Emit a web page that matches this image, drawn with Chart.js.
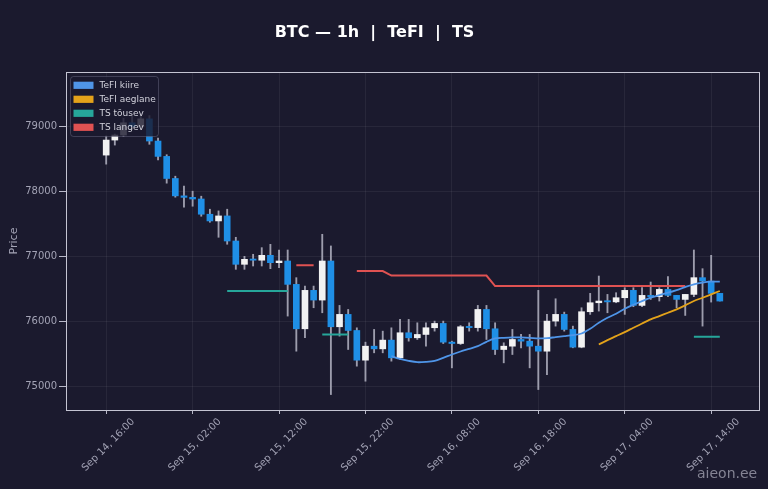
<!DOCTYPE html>
<html>
<head>
<meta charset="utf-8">
<script src="https://cdn.jsdelivr.net/npm/chart.js@4.4.1/dist/chart.umd.min.js"></script>
<style>
  html, body { margin: 0; padding: 0; background: #1b1a2e; }
  canvas { display: block; }
</style>
</head>
<body>
<canvas id="chart1" width="768" height="489"></canvas>
<script>
// hourly candles, index 0 = Sep 14 16:00
var opens  = [78554, 78785, 78862, 79050, 78990, 79110, 78770, 78534, 78195, 77928,
              77905, 77880, 77646, 77543, 77620, 77235, 76877, 76954, 76940, 77015,
              76902, 76928, 76569, 75887, 76477, 76328, 76928, 75918, 76108, 75861,
              75405, 75620, 75579, 75713, 75441, 75826, 75749, 75800, 75903, 75969,
              75682, 75661, 75918, 75905, 76184, 75887, 75569, 75620, 75723, 75697,
              75620, 75543, 76005, 76108, 75877, 75605, 76149, 76287, 76313, 76300,
              76364, 76477, 76246, 76400, 76380, 76492, 76400, 76338, 76415, 76672,
              76620, 76431];
var highs  = [78850, 78877, 79120, 79170, 79200, 79160, 78815, 78560, 78230, 78077,
              78000, 77923, 77723, 77697, 77723, 77292, 77000, 77031, 77133, 77184,
              77097, 77097, 76672, 76543, 76543, 77338, 77159, 76246, 76184, 75902,
              75682, 75877, 75851, 75902, 76031, 76031, 75979, 75979, 76005, 76005,
              75697, 75938, 75979, 76246, 76246, 75979, 75672, 75877, 75800, 75800,
              76477, 76108, 76348, 76143, 75928, 76210, 76431, 76697, 76415, 76441,
              76518, 76518, 76518, 76605, 76518, 76687, 76400, 76415, 77097, 76810,
              77015, 76431];
var lows   = [78415, 78708, 78840, 78950, 78960, 78720, 78480, 78123, 77908, 77754,
              77769, 77615, 77523, 77292, 77185, 76800, 76800, 76851, 76851, 76810,
              76825, 76082, 75543, 75749, 76210, 76133, 74877, 75774, 75569, 75313,
              75082, 75518, 75518, 75390, 75415, 75697, 75723, 75620, 75851, 75661,
              75287, 75646, 75851, 75851, 75723, 75492, 75364, 75492, 75595, 75287,
              74954, 75184, 75928, 75851, 75595, 75595, 76108, 76159, 76133, 76287,
              76108, 76226, 76226, 76338, 76313, 76380, 76210, 76092, 76380, 75928,
              76297, 76313];
var closes = [78785, 78862, 79050, 78990, 79110, 78770, 78534, 78195, 77928, 77905,
              77880, 77646, 77543, 77620, 77235, 76877, 76954, 76940, 77015, 76902,
              76928, 76569, 75887, 76477, 76328, 76928, 75918, 76108, 75861, 75405,
              75620, 75579, 75713, 75441, 75826, 75749, 75800, 75903, 75969, 75682,
              75661, 75918, 75905, 76184, 75887, 75569, 75620, 75723, 75697, 75620,
              75543, 76005, 76108, 75877, 75605, 76149, 76287, 76313, 76300, 76364,
              76477, 76246, 76400, 76380, 76492, 76400, 76338, 76415, 76672, 76620,
              76431, 76313];

var tefiKiire = [null, null, null, null, null, null, null, null, null, null,
                 null, null, null, null, null, null, null, null, null, null,
                 null, null, null, null, null, null, null, null, null, null,
                 null, null, null, 75467, 75425, 75395, 75374, 75379, 75395, 75441,
                 75492, 75538, 75579, 75620, 75687, 75738, 75748, 75754, 75754, 75749,
                 75740, 75743, 75759, 75774, 75790, 75815, 75887, 75979, 76056, 76118,
                 76195, 76256, 76313, 76364, 76405, 76441, 76482, 76528, 76569, 76595,
                 76610, 76610];
var tefiAeglane = [null, null, null, null, null, null, null, null, null, null,
                   null, null, null, null, null, null, null, null, null, null,
                   null, null, null, null, null, null, null, null, null, null,
                   null, null, null, null, null, null, null, null, null, null,
                   null, null, null, null, null, null, null, null, null, null,
                   null, null, null, null, null, null, null, 75646, 75713, 75774,
                   75836, 75903, 75969, 76031, 76082, 76133, 76185, 76246, 76313, 76364,
                   76415, 76467];
var tsTousev = [null, null, null, null, null, null, null, null, null, null,
                null, null, null, null, 76466, 76466, 76466, 76466, 76466, 76466,
                76466, 76466, null, null, null, 75800, 75800, 75800, 75800, null,
                null, null, null, null, null, null, null, null, null, null,
                null, null, null, null, null, null, null, null, null, null,
                null, null, null, null, null, null, null, null, null, null,
                null, null, null, null, null, null, null, null, 75764, 75764,
                75764, 75764];
var tsLangev = [null, null, null, null, null, null, null, null, null, null,
                null, null, null, null, null, null, null, null, null, null,
                null, null, 76861, 76861, 76861, null, null, null, null, 76774,
                76774, 76774, 76774, 76705, 76705, 76705, 76705, 76705, 76705, 76705,
                76705, 76705, 76705, 76705, 76705, 76543, 76543, 76543, 76543, 76543,
                76543, 76543, 76543, 76543, 76543, 76543, 76543, 76543, 76543, 76543,
                76543, 76543, 76543, 76543, 76543, 76543, 76543, 76543, null, null,
                null, null];

var tickHoras = [0, 10, 20, 30, 40, 50, 60, 70];
var tickTextos = ["Sep 14, 16:00", "Sep 15, 02:00", "Sep 15, 12:00", "Sep 15, 22:00",
                  "Sep 16, 08:00", "Sep 16, 18:00", "Sep 17, 04:00", "Sep 17, 14:00"];
var yTicks = [75000, 76000, 77000, 78000, 79000];

var fondo = "#1b1a2e";
var colorSube = "#f2f2f2";
var colorBaja = "#1f8fe6";
var colorMecha = "#9d9dad";
var colorTexto = "#a3a3b5";
var fuente = "'DejaVu Sans', sans-serif";

var leyenda = [
  { texto: "TeFI kiire",   color: "#4f95e8" },
  { texto: "TeFI aeglane", color: "#e3a21a" },
  { texto: "TS tõusev",    color: "#26a69a" },
  { texto: "TS langev",    color: "#e05252" }
];

var idx = opens.map(function (v, i) { return i; });

function serie(arr) {
  return arr.map(function (v, i) { return { x: i, y: v }; });
}

var decor = {
  id: "decor",
  beforeDraw: function (chart) {
    var ctx = chart.ctx;
    ctx.save();
    ctx.fillStyle = fondo;
    ctx.fillRect(0, 0, chart.width, chart.height);
    ctx.restore();
  },
  afterDraw: function (chart) {
    var ctx = chart.ctx;
    var a = chart.chartArea;
    ctx.save();

    // marco
    ctx.strokeStyle = "#c4c4d2";
    ctx.lineWidth = 1;
    ctx.strokeRect(Math.round(a.left) + 0.5, Math.round(a.top) + 0.5,
                   Math.round(a.right - a.left) - 1, Math.round(a.bottom - a.top));

    // leyenda
    var lx = a.left + 4.5, ly = a.top + 4.5;
    ctx.fillStyle = "rgba(27, 26, 46, 0.82)";
    ctx.strokeStyle = "rgba(110, 110, 135, 0.45)";
    ctx.beginPath();
    ctx.roundRect(lx, ly, 88, 60, 3);
    ctx.fill();
    ctx.stroke();
    ctx.font = "9px " + fuente;
    ctx.textBaseline = "middle";
    ctx.textAlign = "left";
    leyenda.forEach(function (item, k) {
      var cy = a.top + 13.3 + 14 * k;
      ctx.fillStyle = item.color;
      ctx.fillRect(a.left + 7.5, cy - 3.6, 20, 7.2);
      ctx.fillStyle = "#d2d2dc";
      ctx.fillText(item.texto, a.left + 33.5, cy);
    });

    // titulo
    ctx.fillStyle = "#ffffff";
    ctx.font = "bold 16px " + fuente;
    ctx.textAlign = "center";
    ctx.textBaseline = "middle";
    ctx.fillText("BTC \u2014 1h  |  TeFI  |  TS", 374.5, 33);

    // marca de agua
    ctx.fillStyle = "rgba(150, 150, 166, 0.85)";
    ctx.font = "14px " + fuente;
    ctx.textAlign = "left";
    ctx.textBaseline = "alphabetic";
    ctx.fillText("aieon.ee", 697, 478);
    ctx.restore();
  }
};

var grafico1 = new Chart(document.getElementById("chart1"), {
  type: "bar",
  data: {
    datasets: [
      {
        type: "line", label: "TeFI kiire", data: serie(tefiKiire),
        borderColor: "#4f95e8", borderWidth: 1.8, pointRadius: 0, tension: 0.3, order: 0
      },
      {
        type: "line", label: "TeFI aeglane", data: serie(tefiAeglane),
        borderColor: "#e3a21a", borderWidth: 1.8, pointRadius: 0, tension: 0.3, order: 0
      },
      {
        type: "line", label: "TS tõusev", data: serie(tsTousev),
        borderColor: "#26a69a", borderWidth: 2, pointRadius: 0, order: 0
      },
      {
        type: "line", label: "TS langev", data: serie(tsLangev),
        borderColor: "#e05252", borderWidth: 2, pointRadius: 0, order: 0
      },
      {
        label: "cuerpo",
        data: idx.map(function (i) { return { x: i, y: [opens[i], closes[i]] }; }),
        backgroundColor: idx.map(function (i) { return closes[i] >= opens[i] ? colorSube : colorBaja; }),
        barThickness: 6, minBarLength: 1.2, grouped: false, order: 1
      },
      {
        label: "mecha",
        data: idx.map(function (i) { return { x: i, y: [lows[i], highs[i]] }; }),
        backgroundColor: colorMecha,
        barThickness: 1.2, grouped: false, order: 2
      }
    ]
  },
  options: {
    responsive: false,
    animation: false,
    layout: { padding: { top: 72, right: 8, left: 0, bottom: 0 } },
    plugins: {
      legend: { display: false },
      tooltip: { enabled: false },
      title: { display: false }
    },
    scales: {
      x: {
        type: "linear",
        min: -4.65,
        max: 75.65,
        offset: false,
        grid: { color: "rgba(255,255,255,0.06)", offset: false, tickLength: 4, tickColor: "#b8b8c8" },
        border: { display: false },
        ticks: {
          color: colorTexto,
          font: { family: fuente, size: 10 },
          minRotation: 45, maxRotation: 45,
          autoSkip: false,
          labelOffset: 27,
          padding: 2,
          callback: function (v) {
            var k = tickHoras.indexOf(v);
            return k >= 0 ? tickTextos[k] : "";
          }
        },
        afterBuildTicks: function (s) {
          s.ticks = tickHoras.map(function (v) { return { value: v }; });
        },
        afterFit: function (s) { s.height = 79; }
      },
      y: {
        min: 74640,
        max: 79830,
        grid: { color: "rgba(255,255,255,0.06)", tickLength: 7, tickColor: "#b8b8c8" },
        border: { display: false },
        ticks: {
          color: colorTexto,
          font: { family: fuente, size: 10 },
          padding: 2,
          callback: function (v) { return String(v); }
        },
        afterBuildTicks: function (s) {
          s.ticks = yTicks.map(function (v) { return { value: v }; });
        },
        title: {
          display: true, text: "Price", color: colorTexto,
          font: { family: fuente, size: 11 }, padding: { top: 8, bottom: 0 }
        },
        afterFit: function (s) { s.width = 66; }
      }
    }
  },
  plugins: [decor]
});
</script>
</body>
</html>
